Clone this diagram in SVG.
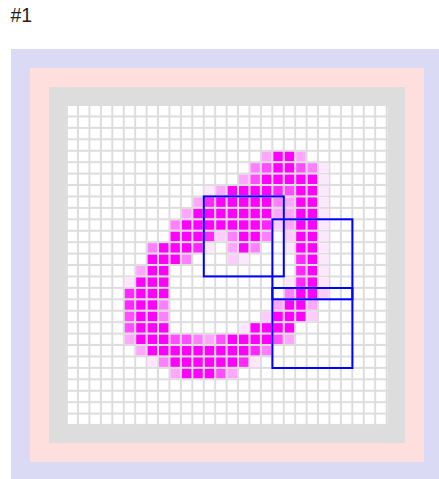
<svg xmlns="http://www.w3.org/2000/svg" width="439" height="479" viewBox="0 0 439 479">
<style>
.lbl{font-family:"Liberation Sans",Arial,sans-serif;font-size:19.5px;fill:#222}
.a{fill:#ff00ff}.b{fill:#ff26ff}.c{fill:#ff4dff}.d{fill:#ff80ff}.e{fill:#ffa6ff}.f{fill:#ffccff}.g{fill:#ffe6ff}
.box{fill:none;stroke:#0000ff;stroke-width:2}
</style>
<defs>
<pattern id="cells" x="67.6" y="106" width="11.4286" height="11.4286" patternUnits="userSpaceOnUse">
<rect width="9.43" height="9.43" fill="#ffffff"/>
</pattern>
<rect id="k" width=".825" height=".825"/>
</defs>
<text class="lbl" x="10.5" y="21.5">#1</text>
<g id="frame">
<rect x="11" y="49" width="432" height="432" fill="#dadaf5"/>
<rect x="30" y="68" width="394" height="394" fill="#ffdede"/>
<rect x="49" y="87" width="356" height="356" fill="#dddddd"/>
<rect x="67.6" y="106" width="320" height="320" fill="url(#cells)"/>
</g>
<g id="digit" transform="translate(67.6,106) scale(11.4286)">
<g class="a">
<use href="#k" x="18" y="4"/><use href="#k" x="19" y="4"/>
<use href="#k" x="18" y="5"/><use href="#k" x="19" y="5"/>
<use href="#k" x="17" y="6"/><use href="#k" x="18" y="6"/><use href="#k" x="19" y="6"/><use href="#k" x="20" y="6"/><use href="#k" x="21" y="6"/>
<use href="#k" x="14" y="7"/><use href="#k" x="15" y="7"/><use href="#k" x="16" y="7"/><use href="#k" x="17" y="7"/><use href="#k" x="20" y="7"/><use href="#k" x="21" y="7"/>
<use href="#k" x="13" y="8"/><use href="#k" x="14" y="8"/><use href="#k" x="15" y="8"/><use href="#k" x="16" y="8"/><use href="#k" x="17" y="8"/><use href="#k" x="20" y="8"/><use href="#k" x="21" y="8"/>
<use href="#k" x="11" y="9"/><use href="#k" x="12" y="9"/><use href="#k" x="13" y="9"/><use href="#k" x="14" y="9"/><use href="#k" x="15" y="9"/><use href="#k" x="16" y="9"/><use href="#k" x="17" y="9"/><use href="#k" x="20" y="9"/><use href="#k" x="21" y="9"/>
<use href="#k" x="10" y="10"/><use href="#k" x="11" y="10"/><use href="#k" x="12" y="10"/><use href="#k" x="13" y="10"/><use href="#k" x="14" y="10"/><use href="#k" x="15" y="10"/><use href="#k" x="16" y="10"/><use href="#k" x="20" y="10"/><use href="#k" x="21" y="10"/>
<use href="#k" x="9" y="11"/><use href="#k" x="10" y="11"/><use href="#k" x="11" y="11"/><use href="#k" x="15" y="11"/><use href="#k" x="16" y="11"/><use href="#k" x="20" y="11"/><use href="#k" x="21" y="11"/>
<use href="#k" x="8" y="12"/><use href="#k" x="9" y="12"/><use href="#k" x="10" y="12"/><use href="#k" x="15" y="12"/><use href="#k" x="20" y="12"/><use href="#k" x="21" y="12"/>
<use href="#k" x="7" y="13"/><use href="#k" x="8" y="13"/><use href="#k" x="9" y="13"/><use href="#k" x="21" y="13"/>
<use href="#k" x="7" y="14"/><use href="#k" x="8" y="14"/><use href="#k" x="21" y="14"/>
<use href="#k" x="6" y="15"/><use href="#k" x="7" y="15"/><use href="#k" x="8" y="15"/><use href="#k" x="21" y="15"/>
<use href="#k" x="6" y="16"/><use href="#k" x="7" y="16"/><use href="#k" x="8" y="16"/><use href="#k" x="20" y="16"/><use href="#k" x="21" y="16"/>
<use href="#k" x="6" y="17"/><use href="#k" x="7" y="17"/><use href="#k" x="19" y="17"/><use href="#k" x="20" y="17"/>
<use href="#k" x="6" y="18"/><use href="#k" x="7" y="18"/><use href="#k" x="18" y="18"/><use href="#k" x="19" y="18"/><use href="#k" x="20" y="18"/>
<use href="#k" x="6" y="19"/><use href="#k" x="7" y="19"/><use href="#k" x="8" y="19"/><use href="#k" x="16" y="19"/><use href="#k" x="17" y="19"/><use href="#k" x="18" y="19"/><use href="#k" x="19" y="19"/>
<use href="#k" x="6" y="20"/><use href="#k" x="7" y="20"/><use href="#k" x="8" y="20"/><use href="#k" x="14" y="20"/><use href="#k" x="15" y="20"/><use href="#k" x="16" y="20"/><use href="#k" x="17" y="20"/>
<use href="#k" x="7" y="21"/><use href="#k" x="8" y="21"/><use href="#k" x="9" y="21"/><use href="#k" x="10" y="21"/><use href="#k" x="11" y="21"/><use href="#k" x="12" y="21"/><use href="#k" x="13" y="21"/><use href="#k" x="14" y="21"/><use href="#k" x="15" y="21"/>
<use href="#k" x="9" y="22"/><use href="#k" x="10" y="22"/><use href="#k" x="11" y="22"/><use href="#k" x="12" y="22"/><use href="#k" x="13" y="22"/><use href="#k" x="14" y="22"/>
<use href="#k" x="10" y="23"/><use href="#k" x="11" y="23"/><use href="#k" x="12" y="23"/>
</g>
<g class="b">
<use href="#k" x="18" y="7"/><use href="#k" x="12" y="8"/><use href="#k" x="17" y="10"/><use href="#k" x="12" y="11"/><use href="#k" x="11" y="12"/><use href="#k" x="20" y="13"/><use href="#k" x="20" y="14"/><use href="#k" x="20" y="15"/><use href="#k" x="5" y="16"/><use href="#k" x="5" y="17"/><use href="#k" x="16" y="21"/><use href="#k" x="15" y="22"/>
</g>
<g class="c">
<use href="#k" x="17" y="5"/><use href="#k" x="20" y="5"/><use href="#k" x="16" y="6"/><use href="#k" x="19" y="7"/><use href="#k" x="5" y="18"/><use href="#k" x="5" y="19"/><use href="#k" x="9" y="20"/><use href="#k" x="10" y="20"/><use href="#k" x="13" y="20"/><use href="#k" x="18" y="20"/><use href="#k" x="13" y="23"/>
</g>
<g class="d">
<use href="#k" x="16" y="5"/><use href="#k" x="21" y="5"/><use href="#k" x="18" y="8"/><use href="#k" x="9" y="10"/><use href="#k" x="14" y="11"/><use href="#k" x="17" y="11"/><use href="#k" x="7" y="12"/><use href="#k" x="16" y="12"/><use href="#k" x="10" y="13"/><use href="#k" x="19" y="16"/><use href="#k" x="8" y="17"/><use href="#k" x="8" y="18"/><use href="#k" x="11" y="20"/><use href="#k" x="17" y="21"/><use href="#k" x="8" y="22"/>
</g>
<g class="e">
<use href="#k" x="17" y="4"/><use href="#k" x="20" y="4"/><use href="#k" x="15" y="6"/><use href="#k" x="13" y="7"/><use href="#k" x="11" y="8"/><use href="#k" x="19" y="8"/><use href="#k" x="10" y="9"/><use href="#k" x="18" y="9"/><use href="#k" x="19" y="9"/><use href="#k" x="19" y="10"/><use href="#k" x="14" y="12"/><use href="#k" x="6" y="14"/><use href="#k" x="18" y="17"/><use href="#k" x="21" y="17"/><use href="#k" x="5" y="20"/><use href="#k" x="12" y="20"/><use href="#k" x="19" y="20"/><use href="#k" x="6" y="21"/><use href="#k" x="9" y="23"/><use href="#k" x="14" y="23"/>
</g>
<g class="f">
<use href="#k" x="18" y="10"/><use href="#k" x="13" y="11"/><use href="#k" x="19" y="11"/><use href="#k" x="14" y="13"/><use href="#k" x="22" y="16"/><use href="#k" x="17" y="18"/><use href="#k" x="21" y="18"/>
</g>
<g class="g">
<use href="#k" x="22" y="5"/><use href="#k" x="22" y="6"/><use href="#k" x="12" y="7"/><use href="#k" x="22" y="7"/><use href="#k" x="22" y="8"/><use href="#k" x="22" y="9"/><use href="#k" x="22" y="10"/><use href="#k" x="22" y="11"/><use href="#k" x="12" y="12"/><use href="#k" x="19" y="12"/><use href="#k" x="22" y="12"/><use href="#k" x="15" y="13"/><use href="#k" x="22" y="13"/><use href="#k" x="22" y="14"/><use href="#k" x="5" y="15"/><use href="#k" x="19" y="15"/><use href="#k" x="22" y="15"/><use href="#k" x="15" y="19"/><use href="#k" x="7" y="22"/><use href="#k" x="16" y="22"/>
</g>
</g>
<g id="boxes">
<rect id="box1" class="box" x="203.8" y="196.4" width="80" height="80"/>
<rect id="box2" class="box" x="272.4" y="219.3" width="80" height="80"/>
<rect id="box3" class="box" x="272.4" y="288" width="80" height="80"/>
</g>
</svg>
